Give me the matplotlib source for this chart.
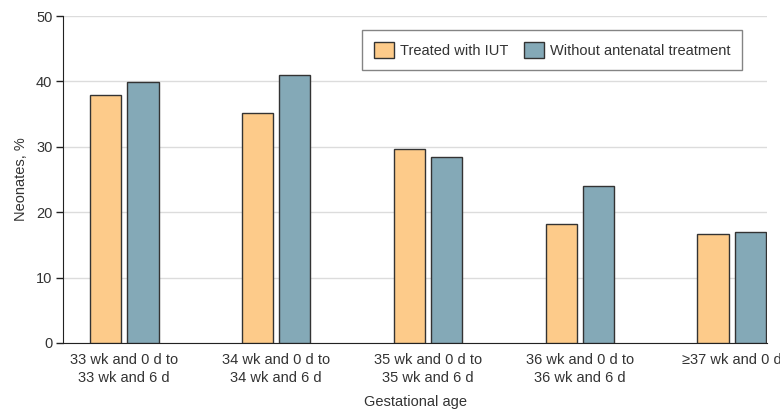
import numpy as np
import matplotlib.pyplot as plt
from matplotlib.patches import Patch

plt.rcParams["font.family"] = ["Liberation Sans", "DejaVu Sans"]

categories = [
    "33 wk and 0 d to\n33 wk and 6 d",
    "34 wk and 0 d to\n34 wk and 6 d",
    "35 wk and 0 d to\n35 wk and 6 d",
    "36 wk and 0 d to\n36 wk and 6 d",
    "\u226537 wk and 0 d",
]
treated_iut = [38.0, 35.1, 29.6, 18.2, 16.7]
without_treatment = [39.9, 41.0, 28.5, 24.0, 17.0]

C_ORANGE = "#fdcb8a"
C_BLUE = "#84a9b7"
EDGE = "#333333"
TXT = "#333333"
FS = 10.5

fig = plt.figure(figsize=(7.8, 4.12), dpi=100)
ax = fig.add_axes([0.0814, 0.1675, 0.9016, 0.7935])

x = np.arange(len(categories))
w = 0.207
off = 0.1225
ax.bar(x - off, treated_iut, w, color=C_ORANGE, edgecolor=EDGE, linewidth=1.0,
       label="Treated with IUT", zorder=3)
ax.bar(x + off, without_treatment, w, color=C_BLUE, edgecolor=EDGE, linewidth=1.0,
       label="Without antenatal treatment", zorder=3)

ax.set_xlim(-0.4, 4.23)
ax.set_ylim(0, 50)
ax.set_yticks([0, 10, 20, 30, 40, 50])
ax.yaxis.grid(True, color="#dcdcdc", linewidth=1.0, zorder=0)
ax.set_axisbelow(True)

ax.set_xticks(x)
ax.set_xticklabels(categories, fontsize=FS, color=TXT, linespacing=1.4)
ax.tick_params(axis="x", length=0, pad=7)
ax.tick_params(axis="y", length=5, width=1, labelsize=FS, labelcolor=TXT,
               color="#222222", pad=3)

for s in ("top", "right"):
    ax.spines[s].set_visible(False)
ax.spines["left"].set_color("#222222")
ax.spines["bottom"].set_color("#222222")

ax.set_ylabel("Neonates, %", fontsize=FS, color=TXT, labelpad=6)
ax.set_xlabel("Gestational age", fontsize=FS, color=TXT, labelpad=7)

handles = [
    Patch(facecolor=C_ORANGE, edgecolor=EDGE, label="Treated with IUT"),
    Patch(facecolor=C_BLUE, edgecolor=EDGE, label="Without antenatal treatment"),
]
leg = ax.legend(handles=handles, loc="upper right", bbox_to_anchor=(0.9645, 0.957),
                ncol=2, frameon=True, fancybox=False, fontsize=FS,
                handlelength=1.35, handleheight=1.35, columnspacing=1.1,
                handletextpad=0.4, borderpad=0.8, borderaxespad=0)
leg.get_frame().set_edgecolor("#666666")
leg.get_frame().set_linewidth(1.0)
for t in leg.get_texts():
    t.set_color(TXT)

fig.savefig("out.png", dpi=100, facecolor="white")
